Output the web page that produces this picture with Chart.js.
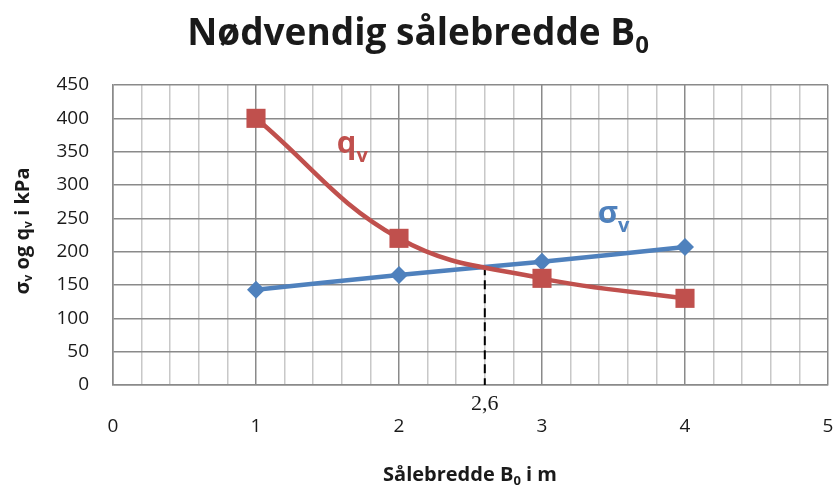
<!DOCTYPE html>
<html>
<head>
<meta charset="utf-8">
<title>Nødvendig sålebredde B0</title>
<script src="https://cdn.jsdelivr.net/npm/chart.js@4.4.0/dist/chart.umd.min.js"></script>
<style>
    html, body { margin: 0; padding: 0; background: #fff; }
    #wrap { width: 833px; height: 486px; }
</style>
</head>
<body>
<div id="wrap"><canvas id="chart" width="833" height="486"></canvas></div>
<script>
// Footing width (m) against stress and bearing capacity (kPa)
const widths = [1, 2, 3, 4];
const qvValues = [400, 220, 160, 130];
const sigmaValues = [143, 165, 185, 207];

// Where the two curves cross
const crossX = 2.6;
const crossY = 178;
const crossLabel = '2,6';

// Axis ranges
const xMin = 0, xMax = 5, xMinorStep = 0.2;
const yMin = 0, yMax = 450, yStep = 50;

const RED = '#C0504D';
const BLUE = '#4F81BD';
const FONT = '"Open Sans", Lato, sans-serif';

function toPoints(xs, ys) {
    return xs.map((x, i) => ({ x: x, y: ys[i] }));
}

function isWhole(v) {
    return Math.abs(v - Math.round(v)) < 1e-6;
}

// Draws a run of text pieces, some of them as subscripts
function drawRich(ctx, parts, x, y, align) {
    let total = 0;
    parts.forEach(p => { ctx.font = p.font; total += ctx.measureText(p.t).width; });
    let cx = align === 'center' ? x - total / 2 : x;
    ctx.textAlign = 'left';
    ctx.textBaseline = 'alphabetic';
    parts.forEach(p => {
        ctx.font = p.font;
        ctx.fillText(p.t, cx, y + (p.dy || 0));
        cx += ctx.measureText(p.t).width;
    });
}

const textPlugin = {
    id: 'textPlugin',
    afterDraw(chart) {
        const ctx = chart.ctx;
        const xs = chart.scales.x;
        const ys = chart.scales.y;
        ctx.save();

        // chart title
        ctx.fillStyle = '#1a1a1a';
        drawRich(ctx, [
            { t: 'Nødvendig sålebredde B', font: 'bold 37px ' + FONT },
            { t: '0', font: 'bold 24px ' + FONT, dy: 8 }
        ], 418, 45, 'center');

        // x axis title
        drawRich(ctx, [
            { t: 'Sålebredde B', font: 'bold 20px ' + FONT },
            { t: '0', font: 'bold 13px ' + FONT, dy: 4 },
            { t: ' i m', font: 'bold 20px ' + FONT }
        ], 470, 481, 'center');

        // y axis title
        ctx.save();
        ctx.translate(29, 231);
        ctx.rotate(-Math.PI / 2);
        drawRich(ctx, [
            { t: 'σ', font: 'bold 20px ' + FONT },
            { t: 'v', font: 'bold 12px ' + FONT, dy: 3 },
            { t: ' og q', font: 'bold 20px ' + FONT },
            { t: 'v', font: 'bold 12px ' + FONT, dy: 3 },
            { t: ' i kPa', font: 'bold 20px ' + FONT }
        ], 0, 0, 'center');
        ctx.restore();

        // series names next to the curves
        ctx.fillStyle = RED;
        drawRich(ctx, [
            { t: 'q', font: 'bold 31px ' + FONT },
            { t: 'v', font: 'bold 20px ' + FONT, dy: 9 }
        ], xs.getPixelForValue(1.565), ys.getPixelForValue(348), 'left');
        ctx.fillStyle = BLUE;
        drawRich(ctx, [
            { t: 'σ', font: 'bold 31px ' + FONT },
            { t: 'v', font: 'bold 20px ' + FONT, dy: 9 }
        ], xs.getPixelForValue(3.39), ys.getPixelForValue(243), 'left');

        // crossing value under the axis
        ctx.fillStyle = '#1a1a1a';
        ctx.font = '22px "Liberation Serif", serif';
        ctx.textAlign = 'center';
        ctx.textBaseline = 'middle';
        ctx.fillText(crossLabel, xs.getPixelForValue(crossX), 404);
        ctx.restore();
    }
};

new Chart(document.getElementById('chart').getContext('2d'), {
    type: 'line',
    data: {
        datasets: [{
            label: 'qv',
            data: toPoints(widths, qvValues),
            borderColor: RED,
            backgroundColor: RED,
            borderWidth: 4.5,
            tension: 0.4,
            pointStyle: 'rect',
            pointRadius: 13.5,
            pointBorderWidth: 0
        }, {
            label: 'σv',
            data: toPoints(widths, sigmaValues),
            borderColor: BLUE,
            backgroundColor: BLUE,
            borderWidth: 4.5,
            tension: 0.4,
            pointStyle: 'rectRot',
            pointRadius: 9,
            pointBorderWidth: 0
        }, {
            label: 'B0',
            data: [{ x: crossX, y: crossY }, { x: crossX, y: yMin }],
            borderColor: '#000',
            borderWidth: 2,
            borderDash: [9, 5],
            pointRadius: 0
        }]
    },
    options: {
        responsive: false,
        animation: false,
        layout: { autoPadding: false, padding: { top: 85, right: 5, bottom: 0, left: 0 } },
        plugins: {
            legend: { display: false },
            tooltip: { enabled: false },
            title: { display: false }
        },
        scales: {
            x: {
                type: 'linear',
                min: xMin,
                max: xMax,
                afterFit: scale => {
                    scale.height = 101;
                    scale.paddingLeft = 0;
                    scale.paddingRight = 0;
                },
                border: { display: true, color: '#8a8a8a', width: 1.5 },
                grid: {
                    drawTicks: false,
                    lineWidth: 1.5,
                    color: c => isWhole(c.tick.value) ? '#8a8a8a' : '#c8c8c8'
                },
                ticks: {
                    stepSize: xMinorStep,
                    autoSkip: false,
                    maxRotation: 0,
                    padding: 30,
                    color: '#1a1a1a',
                    font: { family: FONT, size: 19 },
                    callback: v => isWhole(v) ? String(Math.round(v)) : ''
                }
            },
            y: {
                min: yMin,
                max: yMax,
                afterFit: scale => { scale.width = 113; },
                border: { display: true, color: '#8a8a8a', width: 1.5 },
                grid: { drawTicks: false, lineWidth: 1.5, color: '#8a8a8a' },
                ticks: {
                    stepSize: yStep,
                    padding: 24,
                    color: '#1a1a1a',
                    font: { family: FONT, size: 19 }
                }
            }
        }
    },
    plugins: [textPlugin]
});
</script>
</body>
</html>
